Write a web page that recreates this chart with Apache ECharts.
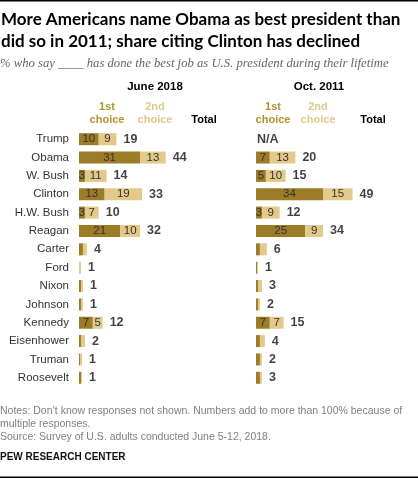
<!DOCTYPE html>
<html><head><meta charset="utf-8">
<script src="https://cdn.jsdelivr.net/npm/echarts@6/dist/echarts.min.js"></script>
<style>html,body{margin:0;padding:0;background:#fff}#c{width:418px;height:478px}</style>
</head><body><div id="c"></div>
<script>
const presidents = ['Trump','Obama','W. Bush','Clinton','H.W. Bush','Reagan','Carter','Ford','Nixon','Johnson','Kennedy','Eisenhower','Truman','Roosevelt'];
const june2018First  = [10,31,3,13,3,21,2,0,1,1,7,1,0.5,1];
const june2018Second = [9,13,11,19,7,10,2,1,1,1,5,2,1,0.5];
const june2018Total  = [19,44,14,33,10,32,4,1,1,1,12,2,1,1];
const oct2011First   = [null,7,5,34,3,25,2,0.5,1,1,7,2,2,2];
const oct2011Second  = [null,13,10,15,9,9,3.5,0.5,2,1,7,2.5,1,1];
const oct2011Total   = [null,20,15,49,12,34,6,1,3,2,15,4,2,3];

const DARK = '#9c7c27', LIGHT = '#e3ca8a';
const BODY_FONT = 'Liberation Sans';

function segLabel(total){
  return {show:true, position:'inside', color:'#333', fontSize:11.5, fontFamily:BODY_FONT,
    formatter: p => (p.value != null && p.value >= 3 && total[p.dataIndex] >= 10) ? String(p.value) : ''};
}
function panelSeries(gi, first, second, total){
  return [
    {type:'bar', xAxisIndex:gi, yAxisIndex:gi, stack:'s'+gi, data:first, barWidth:12,
     itemStyle:{color:DARK}, label:segLabel(total), silent:true},
    {type:'bar', xAxisIndex:gi, yAxisIndex:gi, stack:'s'+gi, data:second, barWidth:12,
     itemStyle:{color:LIGHT}, label:segLabel(total), silent:true},
    {type:'scatter', xAxisIndex:gi, yAxisIndex:gi, symbolSize:0, silent:true,
     data: total.map((t,i)=> t==null
       ? {value:[0,i], label:{formatter:'N/A', distance:1}}
       : {value:[(first[i]||0)+(second[i]||0), i], label:{formatter:String(t)}}),
     label:{show:true, position:'right', distance:7, color:'#111', fontWeight:'bold', fontSize:12.5, fontFamily:BODY_FONT}}
  ];
}
function txt(x,y,text,style){
  return {type:'text', x:x, y:y, style:Object.assign({text:text, fill:'#000', font:'12px '+BODY_FONT, textVerticalAlign:'middle'}, style)};
}
const chart = echarts.init(document.getElementById('c'), null, {renderer:'canvas'});
chart.setOption({
  animation:false,
  grid:[
    {left:79, top:130, width:98.5, height:257},
    {left:256, top:130, width:98.5, height:257}
  ],
  xAxis:[
    {gridIndex:0, type:'value', min:0, max:50, show:false},
    {gridIndex:1, type:'value', min:0, max:50, show:false}
  ],
  yAxis:[
    {gridIndex:0, type:'category', data:presidents, inverse:true,
     axisLine:{show:false}, axisTick:{show:false}, splitLine:{show:false},
     axisLabel:{margin:10, color:'#333', fontSize:11.5, fontFamily:BODY_FONT}},
    {gridIndex:1, type:'category', data:presidents, inverse:true, show:false}
  ],
  series: panelSeries(0, june2018First, june2018Second, june2018Total)
    .concat(panelSeries(1, oct2011First, oct2011Second, oct2011Total)),
  graphic:[
    {type:'rect', shape:{x:0,y:0,width:418,height:1.5}, style:{fill:'#000'}},
    {type:'rect', shape:{x:0,y:476.5,width:418,height:1.5}, style:{fill:'#000'}},
    txt(1,20,'More Americans name Obama as best president than',{font:'bold 17px Lato'}),
    txt(1,42,'did so in 2011; share citing Clinton has declined',{font:'bold 17px Lato'}),
    txt(0,64,'% who say ____ has done the best job as U.S. president during their lifetime',{font:'italic 12.7px "Liberation Serif"', fill:'#666'}),
    txt(155,87,'June 2018',{font:'bold 11.5px '+BODY_FONT, textAlign:'center'}),
    txt(319,87,'Oct. 2011',{font:'bold 11.5px '+BODY_FONT, textAlign:'center'}),
    txt(107,107,'1st',{font:'bold 11px '+BODY_FONT, textAlign:'center', fill:'#b39331'}),
    txt(107,120,'choice',{font:'bold 11px '+BODY_FONT, textAlign:'center', fill:'#b39331'}),
    txt(155,107,'2nd',{font:'bold 11px '+BODY_FONT, textAlign:'center', fill:'#e0c98b'}),
    txt(155,120,'choice',{font:'bold 11px '+BODY_FONT, textAlign:'center', fill:'#e0c98b'}),
    txt(204,120,'Total',{font:'bold 11px '+BODY_FONT, textAlign:'center'}),
    txt(273,107,'1st',{font:'bold 11px '+BODY_FONT, textAlign:'center', fill:'#b39331'}),
    txt(273,120,'choice',{font:'bold 11px '+BODY_FONT, textAlign:'center', fill:'#b39331'}),
    txt(318,107,'2nd',{font:'bold 11px '+BODY_FONT, textAlign:'center', fill:'#e0c98b'}),
    txt(318,120,'choice',{font:'bold 11px '+BODY_FONT, textAlign:'center', fill:'#e0c98b'}),
    txt(373,120,'Total',{font:'bold 11px '+BODY_FONT, textAlign:'center'}),
    txt(0,411,'Notes: Don\u2019t know responses not shown. Numbers add to more than 100% because of',{font:'10.5px '+BODY_FONT, fill:'#808080'}),
    txt(0,424,'multiple responses.',{font:'10.5px '+BODY_FONT, fill:'#808080'}),
    txt(0,437,'Source: Survey of U.S. adults conducted June 5-12, 2018.',{font:'10.5px '+BODY_FONT, fill:'#808080'}),
    txt(0,457,'PEW RESEARCH CENTER',{font:'bold 10px '+BODY_FONT, fill:'#111'})
  ]
});
</script>
</body></html>
